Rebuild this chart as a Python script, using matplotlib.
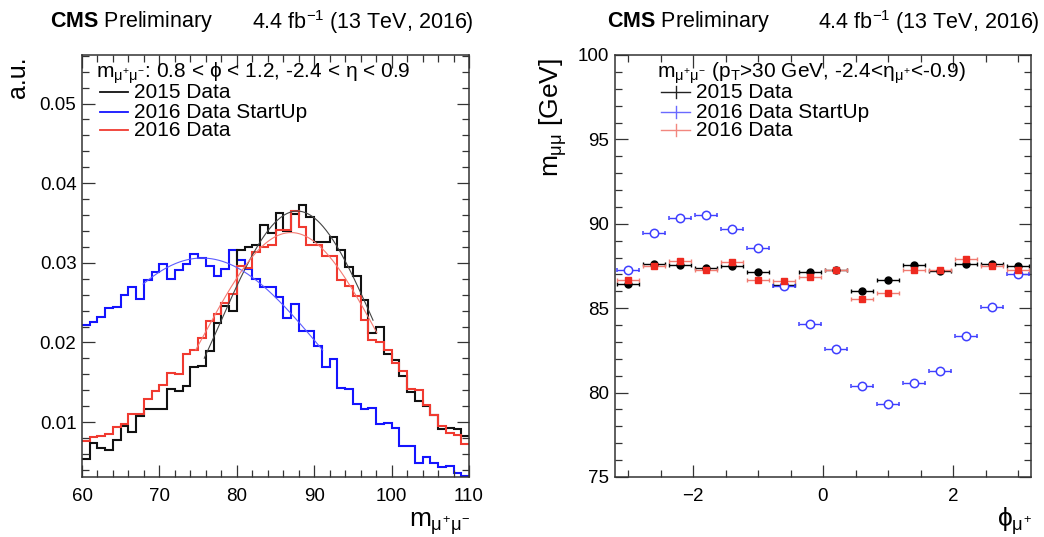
import numpy as np
import matplotlib
matplotlib.use('Agg')
import matplotlib.pyplot as plt
from matplotlib.ticker import MultipleLocator
from matplotlib.lines import Line2D

# ---------------- data ----------------
mass_edges = np.arange(60, 111, 1)

h2015 = [0.0054, 0.0074, 0.0068, 0.0065, 0.0078, 0.0095, 0.0088, 0.0108, 0.0116, 0.0116,
         0.0117, 0.0141, 0.0139, 0.0145, 0.0169, 0.0170, 0.0189, 0.0224, 0.0246, 0.0239,
         0.0316, 0.0320, 0.0322, 0.0347, 0.0338, 0.0363, 0.0340, 0.0361, 0.0373, 0.0357,
         0.0326, 0.0326, 0.0332, 0.0316, 0.0295, 0.0283, 0.0253, 0.0212, 0.0220, 0.0186,
         0.0178, 0.0158, 0.0138, 0.0127, 0.0120, 0.0109, 0.0091, 0.0092, 0.0091, 0.0083]

h2016_startup = [0.0222, 0.0226, 0.0232, 0.0243, 0.0245, 0.0259, 0.0270, 0.0254, 0.0279, 0.0288,
                 0.0299, 0.0280, 0.0291, 0.0299, 0.0311, 0.0306, 0.0296, 0.0283, 0.0292, 0.0316,
                 0.0303, 0.0292, 0.0280, 0.0269, 0.0269, 0.0257, 0.0231, 0.0248, 0.0214, 0.0214,
                 0.0196, 0.0169, 0.0179, 0.0143, 0.0141, 0.0123, 0.0117, 0.0118, 0.0098, 0.0099,
                 0.0092, 0.0070, 0.0070, 0.0049, 0.0056, 0.0049, 0.0044, 0.0045, 0.0036, 0.0032]

h2016 = [0.0076, 0.0081, 0.0083, 0.0085, 0.0094, 0.0097, 0.0110, 0.0110, 0.0129, 0.0139,
         0.0147, 0.0162, 0.0160, 0.0185, 0.0191, 0.0206, 0.0227, 0.0236, 0.0250, 0.0261,
         0.0296, 0.0294, 0.0313, 0.0320, 0.0322, 0.0341, 0.0341, 0.0365, 0.0345, 0.0322,
         0.0322, 0.0308, 0.0309, 0.0278, 0.0271, 0.0258, 0.0228, 0.0203, 0.0200, 0.0191,
         0.0174, 0.0164, 0.0142, 0.0140, 0.0121, 0.0109, 0.0095, 0.0086, 0.0084, 0.0073]

# Gaussian fit results (2015, 2016 StartUp, 2016)
fit_mean = [87.8, 75.5, 87.0]
fit_sigma = [10.1, 16.0, 11.5]
fit_amp = [0.0365, 0.0306, 0.0338]
fit_lo = [75.8, 67.9, 74.7]
fit_hi = [97.6, 91.1, 98.1]

phi_centers = [-3.0, -2.6, -2.2, -1.8, -1.4, -1.0, -0.6, -0.2,
               0.2, 0.6, 1.0, 1.4, 1.8, 2.2, 2.6, 3.0]
phi_halfwidth = 0.17
mmm_2015 = [86.45, 87.62, 87.53, 87.40, 87.48, 87.12, 86.40, 87.12,
            87.26, 86.00, 86.65, 87.53, 87.20, 87.60, 87.60, 87.48]
mmm_2016 = [86.67, 87.48, 87.77, 87.26, 87.71, 86.70, 86.59, 86.84,
            87.28, 85.52, 85.92, 87.28, 87.24, 87.93, 87.50, 87.24]
mmm_startup = [87.28, 89.45, 90.35, 90.53, 89.70, 88.54, 86.29, 84.06,
               82.58, 80.38, 79.33, 80.55, 81.28, 83.33, 85.05, 87.00]

labels = ['2015 Data', '2016 Data StartUp', '2016 Data']

# ---------------- style ----------------
plt.rcParams['font.family'] = ['Liberation Sans', 'DejaVu Sans']
plt.rcParams['mathtext.fontset'] = 'custom'
plt.rcParams['mathtext.rm'] = 'Liberation Sans'
plt.rcParams['mathtext.it'] = 'Liberation Sans'
plt.rcParams['mathtext.bf'] = 'Liberation Sans:bold'
plt.rcParams['mathtext.sf'] = 'Liberation Sans'
plt.rcParams['mathtext.fallback'] = 'stixsans'

W, H = 1044, 537
fig = plt.figure(figsize=(W / 100, H / 100), dpi=100)


def fx(x):
    return x / W


def fy(y):
    return 1 - y / H


def axes_px(x0, y0, x1, y1):
    return fig.add_axes([fx(x0), fy(y1), (x1 - x0) / W, (y1 - y0) / H])


frame_col = '#333333'
tick_fs = 13.5


def root_style(ax):
    for s in ax.spines.values():
        s.set_color(frame_col)
        s.set_linewidth(1.1)
    ax.tick_params(which='both', direction='in', top=True, right=True,
                   color=frame_col, width=0.9, labelsize=tick_fs)
    ax.tick_params(which='major', length=9)
    ax.tick_params(which='minor', length=4.8)
    ax.tick_params(axis='y', pad=4)
    ax.tick_params(axis='x', pad=8)


# ---------------- left panel ----------------
axL = axes_px(82, 55, 469, 477)
hist_cols = ['#111111', '#1414ff', '#f03a30']
fit_cols = ['#444444', '#5c5cff', '#f47a72']
for vals, col in [(h2016_startup, hist_cols[1]), (h2015, hist_cols[0]), (h2016, hist_cols[2])]:
    axL.stairs(vals, mass_edges, baseline=None, color=col, lw=1.5)
for i in range(3):
    xs = np.linspace(fit_lo[i], fit_hi[i], 200)
    ys = fit_amp[i] * np.exp(-0.5 * ((xs - fit_mean[i]) / fit_sigma[i]) ** 2)
    axL.plot(xs, ys, color=fit_cols[i], lw=0.8)
axL.set_xlim(60, 110)
axL.set_ylim(0.0031, 0.0561)
axL.xaxis.set_major_locator(MultipleLocator(10))
axL.xaxis.set_minor_locator(MultipleLocator(2))
axL.yaxis.set_major_locator(MultipleLocator(0.01))
axL.yaxis.set_minor_locator(MultipleLocator(0.002))
axL.yaxis.set_major_formatter(matplotlib.ticker.FormatStrFormatter('%.2f'))
root_style(axL)

# left legend
leg_fs = 15
fig.text(fx(96), fy(73), r'$m_{\mu^{+}\mu^{-}}$: 0.8 < $\phi$ < 1.2, -2.4 < $\eta$ < 0.9',
         fontsize=leg_fs, va='center', ha='left')
for k, (lab, col) in enumerate(zip(labels, hist_cols)):
    yk = [92, 112, 130][k]
    fig.add_artist(Line2D([fx(100), fx(128)], [fy(yk), fy(yk)], color=col, lw=1.3))
    fig.text(fx(134), fy(yk), lab, fontsize=leg_fs, va='center', ha='left')

fig.text(fx(18), fy(56), 'a.u.', rotation=90, fontsize=18, ha='center', va='top')
fig.text(fx(471), fy(527), r'$m_{\mu^{+}\mu^{-}}$', fontsize=19, ha='right', va='baseline')

# ---------------- right panel ----------------
axR = axes_px(615, 55, 1031, 477)
pt_cols = ['#000000', '#3f3fff', '#ee2a20']
err_cols = ['#000000', '#3f3fff', '#f07a70']
axR.errorbar(phi_centers, mmm_2015, xerr=phi_halfwidth, fmt='o', ms=5, color=pt_cols[0],
             ecolor=err_cols[0], elinewidth=1.0, capsize=1.5, capthick=1.0)
axR.errorbar(phi_centers, mmm_startup, xerr=phi_halfwidth, fmt='o', ms=6, mfc='white',
             mec=pt_cols[1], mew=1.1, ecolor=err_cols[1], elinewidth=1.0, capsize=1.5, capthick=1.0)
axR.errorbar(phi_centers, mmm_2016, xerr=phi_halfwidth, fmt='s', ms=5, color=pt_cols[2],
             ecolor=err_cols[2], elinewidth=1.0, capsize=1.5, capthick=1.0)
axR.set_xlim(-3.2, 3.2)
axR.set_ylim(75, 100)
axR.xaxis.set_major_locator(MultipleLocator(2))
axR.xaxis.set_minor_locator(MultipleLocator(0.5))
axR.yaxis.set_major_locator(MultipleLocator(5))
axR.yaxis.set_minor_locator(MultipleLocator(1))
root_style(axR)

fig.text(fx(657), fy(73), r'$m_{\mu^{+}\mu^{-}}$ (p$_{T}$>30 GeV, -2.4<$\eta_{\mu^{+}}$<-0.9)',
         fontsize=leg_fs, va='center', ha='left')
key_cols = ['#222222', '#6a6aff', '#f2877f']
for k, (lab, col) in enumerate(zip(labels, key_cols)):
    yk = [92, 112, 130][k]
    fig.add_artist(Line2D([fx(661), fx(690)], [fy(yk), fy(yk)], color=col, lw=1.0))
    fig.add_artist(Line2D([fx(675.5), fx(675.5)], [fy(yk - 6), fy(yk + 6)], color=col, lw=1.0))
    fig.text(fx(696), fy(yk), lab, fontsize=leg_fs, va='center', ha='left')

fig.text(fx(553), fy(58), r'$m_{\mu\mu}$ [GeV]', rotation=90, fontsize=19, ha='center', va='top')
fig.text(fx(1032), fy(527), r'$\phi_{\mu^{+}}$', fontsize=19, ha='right', va='baseline')

# ---------------- headers ----------------
hdr_fs = 15.5
fig.text(fx(50), fy(22), r'$\mathbf{CMS}$ Preliminary', fontsize=hdr_fs, ha='left', va='center')
fig.text(fx(474), fy(22), r'4.4 fb$^{-1}$ (13 TeV, 2016)', fontsize=hdr_fs, ha='right', va='center')
fig.text(fx(607), fy(22), r'$\mathbf{CMS}$ Preliminary', fontsize=hdr_fs, ha='left', va='center')
fig.text(fx(1040), fy(22), r'4.4 fb$^{-1}$ (13 TeV, 2016)', fontsize=hdr_fs, ha='right', va='center')

fig.savefig('out.png', dpi=100)
